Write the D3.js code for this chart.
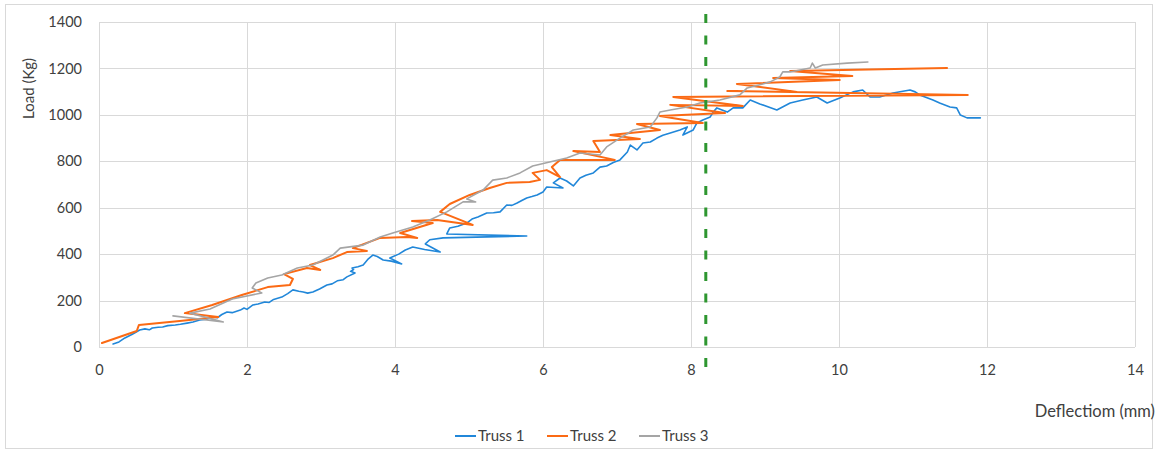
<!DOCTYPE html>
<html>
<head>
<meta charset="utf-8">
<script src="https://cdn.jsdelivr.net/npm/d3@7/dist/d3.min.js"></script>
<style>
  html, body { margin: 0; padding: 0; background: #fff; }
  svg { display: block; }
  text { font-family: Lato, "Open Sans", "Liberation Sans", sans-serif; }
</style>
</head>
<body>
<svg id="chart" width="1158" height="453"></svg>
<script>
// Load–deflection readings for three test trusses: [deflection (mm), load (kg)]
const truss1 = [
  [0.19,13],[0.27,22],[0.35,39],[0.45,55],[0.55,73],[0.62,78],[0.68,74],[0.72,82],
  [0.80,85],[0.86,86],[0.93,92],[1.03,95],[1.10,98],[1.19,103],[1.27,108],[1.36,116],
  [1.45,120],[1.54,129],[1.60,126],[1.66,140],[1.73,151],[1.80,148],[1.91,159],[1.96,168],
  [2.00,162],[2.08,181],[2.15,185],[2.24,194],[2.30,192],[2.36,205],[2.47,215],[2.55,230],
  [2.62,246],[2.70,240],[2.76,237],[2.82,232],[2.89,237],[2.98,250],[3.08,267],[3.15,272],
  [3.22,285],[3.30,290],[3.35,302],[3.46,319],[3.40,326],[3.44,334],[3.42,340],[3.50,346],
  [3.57,353],[3.64,380],[3.70,396],[3.76,390],[3.84,375],[3.95,370],[4.09,358],[3.93,383],
  [4.05,400],[4.14,418],[4.24,431],[4.40,420],[4.61,409],[4.41,444],[4.47,462],[4.65,470],
  [5.78,478],[4.70,487],[4.74,513],[4.85,520],[4.97,534],[5.04,551],[5.12,560],[5.24,577],
  [5.33,578],[5.42,582],[5.51,612],[5.58,610],[5.65,620],[5.72,632],[5.78,642],[5.85,648],
  [5.92,655],[6.00,668],[6.05,689],[6.27,685],[6.14,707],[6.23,728],[6.32,715],[6.41,694],
  [6.50,728],[6.58,740],[6.68,750],[6.77,775],[6.86,780],[6.95,795],[7.04,806],[7.14,840],
  [7.18,870],[7.27,849],[7.35,879],[7.45,883],[7.54,900],[7.62,912],[7.72,922],[7.85,935],
  [7.95,948],[7.89,913],[8.03,935],[8.08,965],[8.16,978],[8.26,991],[8.30,1012],[8.35,1030],
  [8.49,1012],[8.57,1030],[8.70,1030],[8.80,1064],[8.93,1047],[9.16,1021],[9.34,1051],[9.51,1064],
  [9.70,1077],[9.84,1051],[10.01,1073],[10.19,1099],[10.32,1107],[10.42,1077],[10.55,1077],[10.73,1094],
  [10.96,1107],[11.03,1099],[11.09,1086],[11.27,1064],[11.36,1051],[11.50,1034],[11.59,1030],[11.64,999],
  [11.73,987],[11.91,987]
];
const truss2 = [
  [0.04,17],[0.51,69],[0.54,95],[1.09,112],[1.61,129],[1.16,146],[1.53,181],[1.93,224],
  [2.28,258],[2.58,267],[2.62,293],[2.50,314],[2.81,340],[2.99,332],[2.85,353],[3.16,383],
  [3.35,409],[3.62,414],[3.43,426],[3.80,470],[4.16,474],[4.30,470],[4.07,491],[4.51,534],
  [4.23,543],[4.57,547],[5.05,526],[4.61,582],[4.74,616],[5.01,655],[5.28,685],[5.51,707],
  [5.82,711],[5.96,720],[5.86,750],[6.05,762],[6.23,732],[6.12,775],[6.23,806],[6.97,806],
  [6.41,844],[6.77,840],[6.68,887],[7.31,896],[6.91,913],[7.58,935],[7.27,961],[8.16,965],
  [7.58,995],[8.46,1008],[7.72,1043],[8.70,1038],[7.76,1077],[11.74,1086],[8.49,1103],[9.43,1099],
  [8.62,1133],[10.01,1150],[9.11,1159],[10.18,1167],[9.34,1189],[11.46,1202]
];
const truss3 = [
  [1.00,134],[1.68,108],[1.23,146],[1.50,164],[1.80,207],[2.20,233],[2.07,254],[2.12,276],
  [2.28,297],[2.47,310],[2.68,340],[2.89,353],[3.16,396],[3.26,426],[3.57,439],[3.80,474],
  [3.97,491],[4.24,517],[4.47,547],[4.70,582],[4.92,625],[5.09,625],[4.97,638],[5.19,676],
  [5.32,719],[5.51,728],[5.69,750],[5.86,780],[6.09,797],[6.32,814],[6.50,836],[6.77,827],
  [6.86,862],[7.04,900],[7.22,935],[7.45,948],[7.54,987],[7.58,1012],[7.72,1021],[7.95,1034],
  [8.12,1051],[8.39,1064],[8.66,1086],[8.76,1116],[8.97,1133],[9.07,1142],[9.20,1163],[9.24,1185],
  [9.34,1185],[9.61,1202],[9.64,1223],[9.68,1202],[9.78,1215],[10.11,1223],[10.39,1228]
];
const seriesNames = ["Truss 1", "Truss 2", "Truss 3"];
const xTicks = [0, 2, 4, 6, 8, 10, 12, 14];
const yTicks = [0, 200, 400, 600, 800, 1000, 1200, 1400];
const refDeflection = 8.2;   // vertical reference line (mm)

const seriesData = [truss1, truss2, truss3];
const seriesColors = ["#2187d9", "#fb6a14", "#a5a5a5"];
const seriesWidths = [1.6, 2, 1.6];

const W = 1158, H = 453;
const margin = { top: 22, right: 23, bottom: 106, left: 99 };
const svg = d3.select("#chart");

// chart frame
svg.append("rect")
  .attr("x", 5.5).attr("y", 4.5)
  .attr("width", W - 11).attr("height", H - 9)
  .attr("fill", "#fff").attr("stroke", "#d9d9d9");

const x = d3.scaleLinear().domain([0, 14]).range([margin.left, W - margin.right]);
const y = d3.scaleLinear().domain([0, 1400]).range([H - margin.bottom, margin.top]);

// gridlines
svg.append("g").selectAll("line").data(yTicks).join("line")
  .attr("x1", x(0)).attr("x2", x(14))
  .attr("y1", d => Math.round(y(d)) + 0.5).attr("y2", d => Math.round(y(d)) + 0.5)
  .attr("stroke", "#d9d9d9").attr("stroke-width", 1);
svg.append("g").selectAll("line").data(xTicks).join("line")
  .attr("y1", y(0)).attr("y2", y(1400))
  .attr("x1", d => Math.round(x(d)) + 0.5).attr("x2", d => Math.round(x(d)) + 0.5)
  .attr("stroke", "#d9d9d9").attr("stroke-width", 1);

// axes (labels only)
const xAxis = d3.axisBottom(x).tickValues(xTicks).tickFormat(d3.format("d")).tickSize(0).tickPadding(18);
const yAxis = d3.axisLeft(y).tickValues(yTicks).tickFormat(d3.format("d")).tickSize(0).tickPadding(17);
const gx = svg.append("g").attr("transform", `translate(0,${y(0)})`).call(xAxis);
const gy = svg.append("g").attr("transform", `translate(${x(0)},0)`).call(yAxis);
[gx, gy].forEach(g => {
  g.select(".domain").remove();
  g.selectAll("text").attr("fill", "#404040").style("font-size", "14.5px")
    .style("font-family", "Lato, 'Open Sans', sans-serif");
});

// series lines
const line = d3.line().x(d => x(d[0])).y(d => y(d[1]));
seriesData.forEach((data, i) => {
  svg.append("path").datum(data)
    .attr("d", line)
    .attr("fill", "none")
    .attr("stroke", seriesColors[i])
    .attr("stroke-width", seriesWidths[i])
    .attr("stroke-linejoin", "round")
    .attr("stroke-linecap", "round");
});

// dashed reference line
svg.append("line")
  .attr("x1", x(refDeflection)).attr("x2", x(refDeflection))
  .attr("y1", y(1400) - 8).attr("y2", y(0) + 25)
  .attr("stroke", "#2e9630").attr("stroke-width", 3)
  .attr("stroke-dasharray", "9 12.5");

// axis titles
svg.append("text")
  .attr("transform", `translate(34,${(y(1400) + y(1000)) / 2 + 20}) rotate(-90)`)
  .attr("text-anchor", "middle")
  .attr("fill", "#404040")
  .style("font-size", "15px")
  .text("Load (Kg)");
svg.append("text")
  .attr("x", 1155).attr("y", 417)
  .attr("text-anchor", "end")
  .attr("fill", "#404040")
  .style("font-size", "16.5px")
  .text("Deflectiom (mm)");

// legend
const legendX = [455, 547, 639];
const legend = svg.append("g");
seriesNames.forEach((name, i) => {
  const g = legend.append("g").attr("transform", `translate(${legendX[i]},436)`);
  g.append("line").attr("x1", 0).attr("x2", 21).attr("y1", 0).attr("y2", 0)
    .attr("stroke", seriesColors[i]).attr("stroke-width", 2);
  g.append("text").attr("x", 23).attr("y", 5)
    .attr("fill", "#404040").style("font-size", "15px").text(name);
});
</script>
</body>
</html>
